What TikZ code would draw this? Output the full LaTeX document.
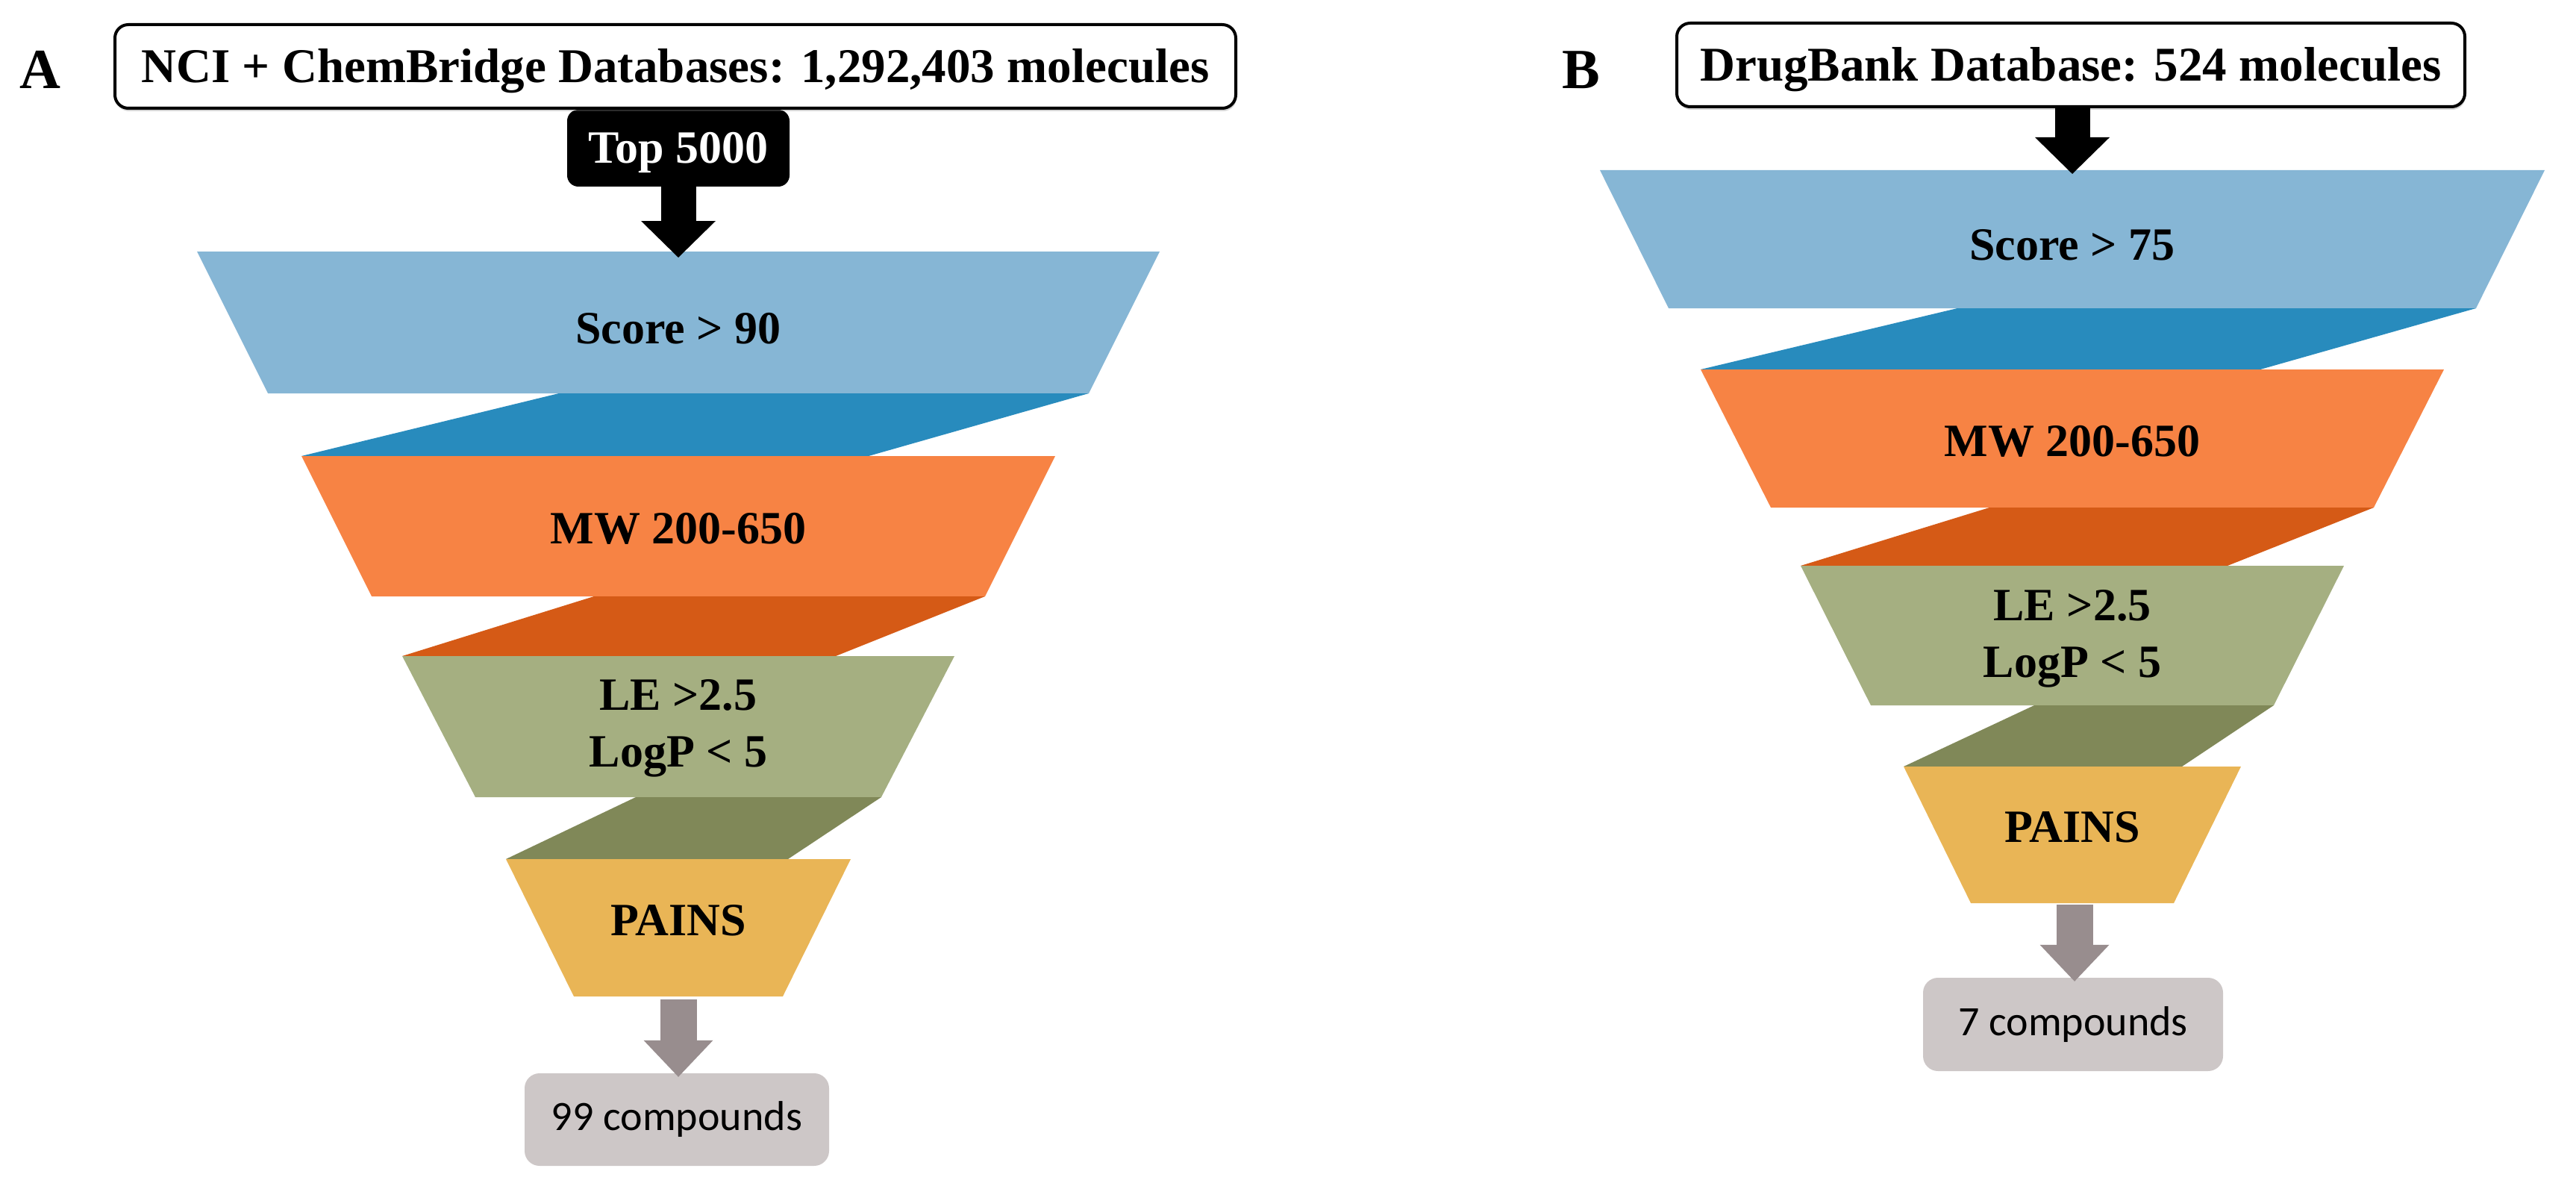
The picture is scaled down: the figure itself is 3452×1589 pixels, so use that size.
\documentclass[tikz,border=0pt]{standalone}
\usepackage{fontspec}
\setmainfont{Liberation Serif}
\newfontfamily\calfont{Carlito}
\usetikzlibrary{arrows.meta,shadows}
\definecolor{bluel}{RGB}{134,182,213}
\definecolor{blued}{RGB}{40,139,189}
\definecolor{orangel}{RGB}{247,131,68}
\definecolor{oranged}{RGB}{213,90,22}
\definecolor{greenl}{RGB}{165,175,129}
\definecolor{greend}{RGB}{128,136,88}
\definecolor{yellowl}{RGB}{233,181,86}
\definecolor{greybox}{RGB}{205,199,199}
\definecolor{greyarrow}{RGB}{152,141,142}
\begin{document}
\begin{tikzpicture}[x=1pt,y=-1pt,
  dbbox/.style={draw=black,line width=4pt,fill=white,rounded corners=18pt,inner sep=0pt,
    font=\fontsize{65}{78}\selectfont\bfseries,text height=43pt,text depth=0pt,
    drop shadow={shadow xshift=1pt,shadow yshift=-4pt,opacity=0.35}},
  topbox/.style={fill=black,text=white,rounded corners=15pt,inner sep=0pt,
    font=\fontsize{62}{70}\selectfont\bfseries,text height=41pt,text depth=0pt,
    minimum width=298pt,minimum height=103pt},
  lbl/.style={inner sep=0pt,font=\fontsize{62}{76}\selectfont\bfseries,text height=41pt,text depth=0pt},
  lbl2/.style={inner sep=0pt,align=center,font=\fontsize{62}{76}\selectfont\bfseries},
  panel/.style={inner sep=0pt,font=\fontsize{76}{80}\selectfont\bfseries,text height=50pt,text depth=0pt},
  resbox/.style={fill=greybox,rounded corners=20pt,inner sep=0pt,font=\calfont\fontsize{56}{60}\selectfont},
  blkarrow/.style={draw=black,line width=47pt,-{Triangle[width=100pt,length=49pt,line width=0pt]}},
  gryarrow/.style={draw=greyarrow,line width=49pt,-{Triangle[width=93pt,length=49pt,line width=0pt]}}
]
\useasboundingbox (0,0) rectangle (3452,1589);

% ---------------- Panel A ----------------
\fill[bluel] (264,337) -- (1554,337) -- (1459,527) -- (359,527) -- cycle;
\fill[blued] (749,527) -- (1459,527) -- (1164,611) -- (404,611) -- cycle;
\fill[orangel] (404,611) -- (1414,611) -- (1320,799) -- (498,799) -- cycle;
\fill[oranged] (796,799) -- (1320,799) -- (1120,879) -- (539,879) -- cycle;
\fill[greenl] (539,879) -- (1279,879) -- (1181,1068) -- (637,1068) -- cycle;
\fill[greend] (852,1068) -- (1181,1068) -- (1056,1151) -- (678,1151) -- cycle;
\fill[yellowl] (678,1151) -- (1140,1151) -- (1049,1335) -- (769,1335) -- cycle;

\node[panel] (labA) at (54,93.5) {A};
\node[topbox] (topA) at (909,198.5) {Top 5000};
\node[dbbox,minimum width=1502pt,minimum height=112pt] (dbA) at (905,89)
  {NCI + ChemBridge Databases: 1,292,403 molecules};

\node[lbl] (scoreA) at (909,440) {Score > 90};
\node[lbl] (mwA) at (909,708) {MW 200-650};
\node[lbl2] (leA) at (909,976) {LE >2.5\\LogP < 5};
\node[lbl] (painsA) at (909,1233) {PAINS};

\coordinate (inA) at (909,345);
\coordinate (outA) at (909,1339);
\draw[blkarrow] (topA.south) -- (inA);

\node[resbox,minimum width=408pt,minimum height=124pt] (resA) at (907,1500) {99 compounds};
\draw[gryarrow] (outA) -- ([yshift=-5pt]resA.north -| outA);

% ---------------- Panel B ----------------
\fill[bluel] (2144,228) -- (3410,228) -- (3318,413) -- (2236,413) -- cycle;
\fill[blued] (2623,413) -- (3318,413) -- (3029,495) -- (2279,495) -- cycle;
\fill[orangel] (2279,495) -- (3275,495) -- (3181,680) -- (2373,680) -- cycle;
\fill[oranged] (2666,680) -- (3181,680) -- (2985,758) -- (2413,758) -- cycle;
\fill[greenl] (2413,758) -- (3141,758) -- (3047,945) -- (2507,945) -- cycle;
\fill[greend] (2726,945) -- (3047,945) -- (2924,1027) -- (2551,1027) -- cycle;
\fill[yellowl] (2551,1027) -- (3003,1027) -- (2913,1210) -- (2641,1210) -- cycle;

\node[panel] (labB) at (2119,93.5) {B};
\node[dbbox,minimum width=1056pt,minimum height=112pt] (dbB) at (2775,87)
  {DrugBank Database: 524 molecules};

\node[lbl] (scoreB) at (2777,328) {Score > 75};
\node[lbl] (mwB) at (2777,591) {MW 200-650};
\node[lbl2] (leB) at (2777,856) {LE >2.5\\LogP < 5};
\node[lbl] (painsB) at (2777,1108) {PAINS};

\coordinate (inB) at (2777,233);
\coordinate (outB) at (2780,1212);
\draw[blkarrow] (dbB.south -| inB) -- (inB);

\node[resbox,minimum width=402pt,minimum height=125pt] (resB) at (2778,1372.5) {7 compounds};
\draw[gryarrow] (outB) -- ([yshift=-5pt]resB.north -| outB);
\end{tikzpicture}
\end{document}
